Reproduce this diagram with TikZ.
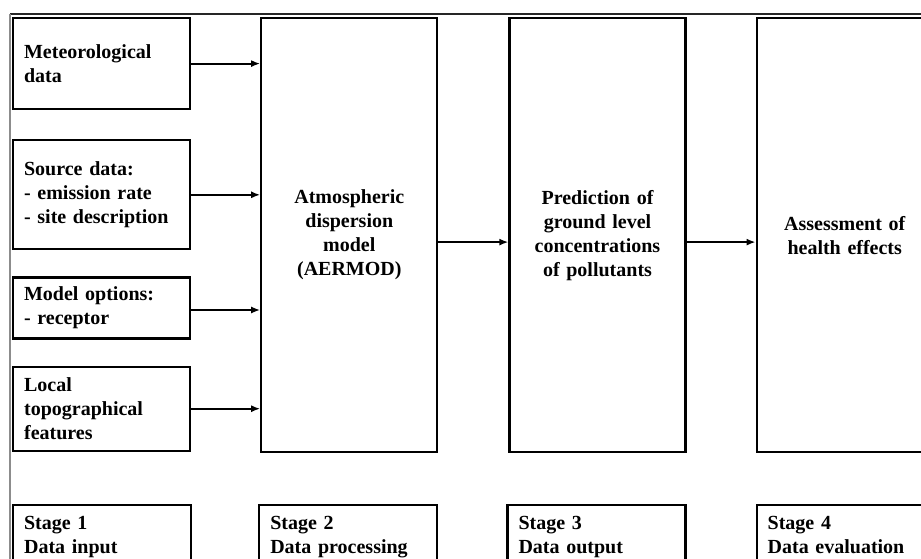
\documentclass[tikz,border=0pt]{standalone}
\usepackage{fontspec}
\setmainfont{Liberation Serif}
\usetikzlibrary{arrows.meta,positioning}

\tikzset{
  inbox/.style={draw, line width=2.2pt, minimum height=#1, text width=155pt,
    inner xsep=11pt, align=left},
  bigbox/.style={draw, line width=2.2pt, minimum height=434pt, text width=150pt,
    inner xsep=13pt, align=center},
  stagebox/.style={draw, line width=2.2pt, minimum height=67pt, text width=156pt,
    inner xsep=11pt, align=left, execute at end node=\strut}
}

\begin{document}
\begin{tikzpicture}[->, >={Latex[length=9pt,width=7pt]}, line width=2pt,
    font=\fontsize{20}{24}\selectfont\bfseries]
  \useasboundingbox (0pt,0pt) rectangle (921pt,-559pt);

  % frame
  \draw[-, line width=2pt, black!85] (10pt,-14pt) -- (921pt,-14pt);
  \draw[-, line width=1.3pt, black!45] (10pt,-14pt) -- (10pt,-559pt);

  % stage 1 inputs
  \node[inbox=91pt, anchor=north west] (met) at (12pt,-17pt) {Meteorological\\data};
  \node[inbox=109pt] (src) [below=29pt of met] {Source data:\\- emission rate\\- site description};
  \node[inbox=61pt]  (opt) [below=26pt of src] {Model options:\\- receptor};
  \node[inbox=84pt]  (loc) [below=26pt of opt] {Local\\topographical\\features};

  % stages 2--4
  \node[bigbox] (aermod) [right=69pt of met.north east, anchor=north west]
    {Atmospheric\\dispersion\\model\\(AERMOD)};
  \node[bigbox] (pred) [right=70pt of aermod] {Prediction of\\ground level\\concentrations\\of pollutants};
  \node[bigbox] (asmt) [right=69pt of pred]   {Assessment of\\health effects};

  % stage labels
  \node[stagebox] (st2) [below=51pt of aermod.south east, anchor=north east] {Stage 2\\Data processing};
  \node[stagebox] (st3) [below=51pt of pred.south east, anchor=north east]   {Stage 3\\Data output};
  \node[stagebox] (st4) [below=51pt of asmt.south west, anchor=north west]   {Stage 4\\Data evaluation};
  \node[stagebox, anchor=north west] (st1) at (loc.west |- st2.north)         {Stage 1\\Data input};

  \draw (met) -- (met -| aermod.west);
  \draw (src) -- (src -| aermod.west);
  \draw ([yshift=-2pt]opt.east) -- ([yshift=-2pt]opt.east -| aermod.west);
  \draw (loc) -- (loc -| aermod.west);
  \draw ([yshift=-7pt]aermod.east) -- ([yshift=-7pt]pred.west);
  \draw ([yshift=-7pt]pred.east) -- ([yshift=-7pt]asmt.west);
\end{tikzpicture}
\end{document}
